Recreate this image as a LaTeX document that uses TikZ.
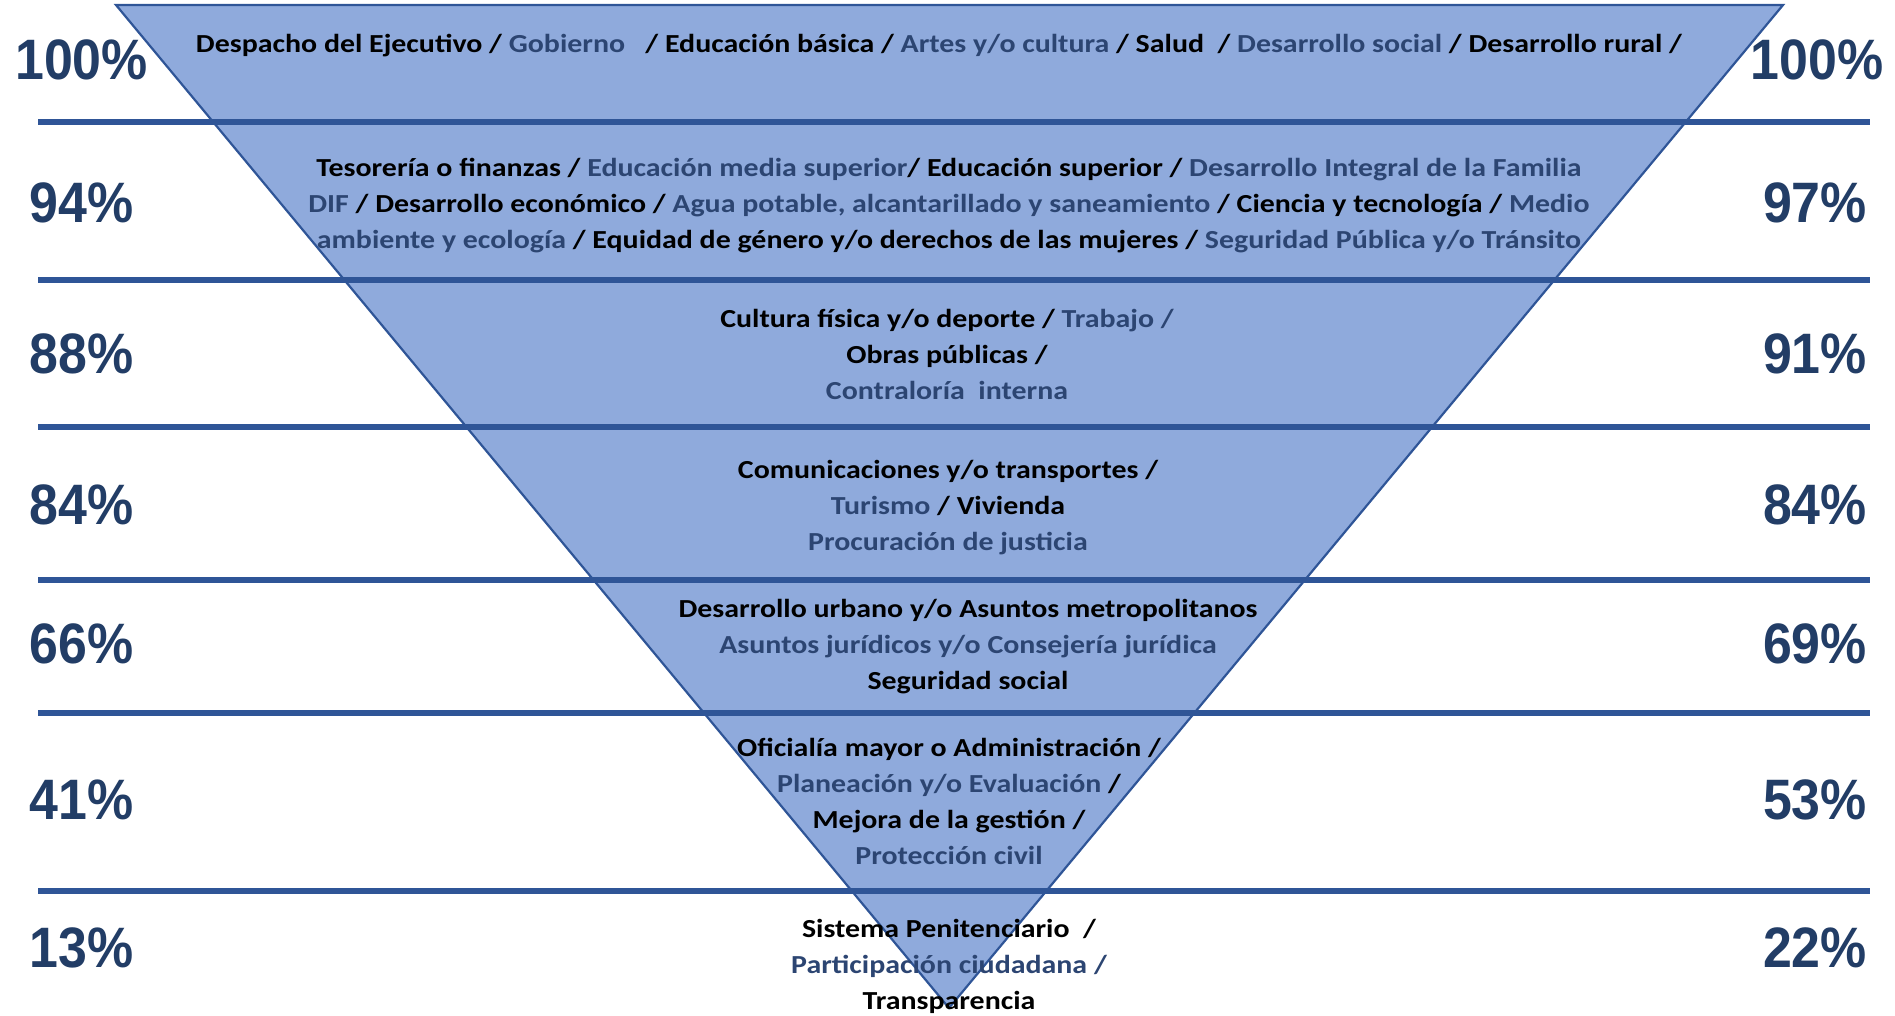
\documentclass[tikz,border=0pt]{standalone}
\usepackage{fontspec}
\setmainfont{Carlito}[FakeStretch=1.15]
\newfontfamily\pctfont{Liberation Sans}[FakeStretch=0.91]
\definecolor{fillblue}{HTML}{8FAADC}
\definecolor{lineblue}{HTML}{2F5597}
\definecolor{pctblue}{HTML}{223D66}
\definecolor{txtblue}{HTML}{2C4572}
\newcommand{\bl}[1]{\textcolor{txtblue}{#1}}
\tikzset{
  pct/.style={font=\pctfont\bfseries\fontsize{57}{60}\selectfont, text=pctblue, inner sep=0pt},
  body/.style={font=\bfseries\fontsize{26}{36}\selectfont, align=center, inner sep=0pt, text=black},
  sepline/.style={draw=lineblue, line width=6pt},
}
\begin{document}
\begin{tikzpicture}[x=1pt,y=-1pt]
\useasboundingbox (0,0) rectangle (1895,1015);
% triangle
\coordinate (tl) at (116,5);
\coordinate (tr) at (1783,5);
\coordinate (ap) at (949,1008);
\fill[fillblue] (tl) -- (tr) -- (ap) -- cycle;
% separator lines
\foreach \yy/\nm in {122/a,280/b,427/c,580/d,713/e,891/f}{
  \coordinate (L\nm) at (38,\yy);
  \coordinate (R\nm) at (1870,\yy);
  \draw[sepline] (L\nm) -- (R\nm);
}
\draw[lineblue, line width=2.2pt, line join=miter] (tl) -- (tr) -- (ap) -- cycle;
% percentages left
\node[pct] (pl1) at (81.5,60) {100\%};
\node[pct] (pl2) at (81.5,203) {94\%};
\node[pct] (pl3) at (81.5,354) {88\%};
\node[pct] (pl4) at (81.5,505) {84\%};
\node[pct] (pl5) at (81.5,644) {66\%};
\node[pct] (pl6) at (81.5,800) {41\%};
\node[pct] (pl7) at (81.5,948) {13\%};
% percentages right
\node[pct] (pr1) at (1817,60) {100\%};
\node[pct] (pr2) at (1815,203) {97\%};
\node[pct] (pr3) at (1815,354) {91\%};
\node[pct] (pr4) at (1815,505) {84\%};
\node[pct] (pr5) at (1815,644) {69\%};
\node[pct] (pr6) at (1815,800) {53\%};
\node[pct] (pr7) at (1815,948) {22\%};
% texts
\node[body] (t1) at (939,46) {Despacho del Ejecutivo / \bl{Gobierno}\ \ \ / Educación básica / \bl{Artes y/o cultura} / Salud\ \ / \bl{Desarrollo social} / Desarrollo rural /};
\node[body] (t2) at (949,205.5) {Tesorería o finanzas / \bl{Educación media superior}/ Educación superior / \bl{Desarrollo Integral de la Familia}\\
\bl{DIF} / Desarrollo económico / \bl{Agua potable, alcantarillado y saneamiento} / Ciencia y tecnología / \bl{Medio}\\
\bl{ambiente y ecología} / Equidad de género y/o derechos de las mujeres / \bl{Seguridad Pública y/o Tránsito}};
\node[body] (t3) at (947,354) {Cultura física y/o deporte / \bl{Trabajo /}\\ Obras públicas /\\ \bl{Contraloría\ \ interna}};
\node[body] (t4) at (948,508) {Comunicaciones y/o transportes /\\ \bl{Turismo} / Vivienda\\ \bl{Procuración de justicia}};
\node[body] (t5) at (968,647) {Desarrollo urbano y/o Asuntos metropolitanos\\ \bl{Asuntos jurídicos y/o Consejería jurídica}\\ Seguridad social};
\node[body] (t6) at (949,801.5) {Oficialía mayor o Administración /\\ \bl{Planeación y/o Evaluación} /\\ Mejora de la gestión /\\ \bl{Protección civil}};
\node[body] (t7) at (949,966) {Sistema Penitenciario\ \ /\\ \bl{Participación ciudadana /}\\ Transparencia};
\end{tikzpicture}
\end{document}
